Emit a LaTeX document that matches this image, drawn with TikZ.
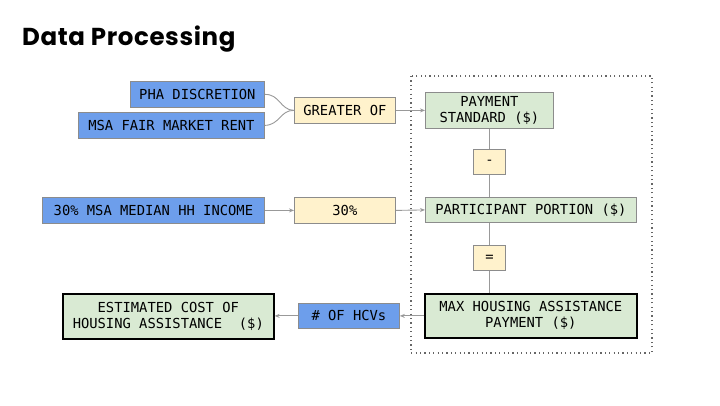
\documentclass[tikz,border=0pt]{standalone}
\usepackage{fontspec}
\setmonofont{DejaVu Sans Mono}
\newfontfamily\titlefont[LetterSpace=2.5]{Poppins}
\usetikzlibrary{arrows.meta}
\definecolor{bluebox}{HTML}{6D9EEB}
\definecolor{yellowbox}{HTML}{FFF2CC}
\definecolor{greenbox}{HTML}{D9EAD3}
\definecolor{edgegray}{HTML}{999999}
\definecolor{bordergray}{HTML}{8C8C8C}
\tikzset{
  x=1pt, y=-1pt,
  base/.style={font=\fontsize{13.8}{16}\selectfont\ttfamily, inner sep=0pt, align=center, text=black},
  bluenode/.style={base, fill=bluebox, draw=bordergray, line width=0.8pt},
  yellownode/.style={base, fill=yellowbox, draw=bordergray, line width=0.8pt},
  greennode/.style={base, fill=greenbox, draw=bordergray, line width=0.8pt},
  greenbold/.style={base, fill=greenbox, draw=black, line width=1.6pt},
  conn/.style={draw=edgegray, line width=0.9pt},
  arr/.style={conn, -{Stealth[length=5pt,width=4pt,open]}},
}
\begin{document}
\begin{tikzpicture}
\useasboundingbox (0,0) rectangle (720,405);
\fill[white] (0,0) rectangle (720,405);

\node[anchor=base west, inner sep=0pt, font=\titlefont\bfseries\fontsize{24.5}{28}\selectfont] (title) at (22,45) {Data Processing};

% dotted frame
\draw[dash pattern=on 1.2pt off 3.2pt, line width=1.2pt, black!60] (411,76) rectangle (652,353);

% left inputs
\node[bluenode, minimum width=134pt, minimum height=26pt, anchor=north west] (pha) at (130,81) {};
\node[base] at (pha.center) {PHA DISCRETION};
\node[bluenode, minimum width=186pt, minimum height=26pt, anchor=north west] (msa) at (78,112) {};
\node[base] at (msa.center) {MSA FAIR MARKET RENT};
\node[yellownode, minimum width=101pt, minimum height=26pt, anchor=north west] (greater) at (294,97) {};
\node[base] at (greater.center) {GREATER OF};

\node[bluenode, minimum width=222pt, minimum height=26pt, anchor=north west] (income) at (42,197) {};
\node[base] at (income.center) {30\% MSA MEDIAN HH INCOME};
\node[yellownode, minimum width=101pt, minimum height=26pt, anchor=north west] (thirty) at (294,197) {};
\node[base] at (thirty.center) {30\%};

% right column
\node[greennode, minimum width=128pt, minimum height=36pt, anchor=north west] (pay) at (425,92) {};
\node[base] at (pay.center) {PAYMENT\\STANDARD (\$)};
\node[yellownode, minimum width=32pt, minimum height=25pt, anchor=north west] (minus) at (473,149) {};
\node[base] at (minus.center) {-};
\node[greennode, minimum width=211pt, minimum height=25pt, anchor=north west] (part) at (425,197) {};
\node[base] at (part.center) {PARTICIPANT PORTION (\$)};
\node[yellownode, minimum width=32pt, minimum height=25pt, anchor=north west] (equal) at (473,245) {};
\node[base] at (equal.center) {=};
\node[greenbold, minimum width=212pt, minimum height=44pt, anchor=north west] (max) at (424,293) {};
\node[base] at (max.center) {MAX HOUSING ASSISTANCE\\PAYMENT (\$)};

% bottom left
\node[bluenode, minimum width=101pt, minimum height=25pt, anchor=north west] (hcv) at (298,303) {};
\node[base] at (hcv.center) {\# OF HCVs};
\node[greenbold, minimum width=211pt, minimum height=45pt, anchor=north west] (est) at (62,293) {};
\node[base] at (est.center) {ESTIMATED COST OF\\HOUSING ASSISTANCE~~(\$)};

% connectors
\draw[conn] (pha.east) .. controls (280,94) and (280,110) .. (greater.west);
\draw[conn] (msa.east) .. controls (280,125) and (280,110) .. (greater.west);
\draw[arr] (greater.east) -- (pay.west |- greater.east);
\draw[arr] (income.east) -- (thirty.west);
\draw[arr] (thirty.east) -- (part.west);
\draw[conn] (minus.north) -- (minus.north |- pay.south);
\draw[conn] (minus.south) -- (minus.south |- part.north);
\draw[conn] (equal.north) -- (equal.north |- part.south);
\draw[conn] (equal.south) -- (equal.south |- max.north);
\draw[arr] (max.west |- hcv.east) -- (hcv.east);
\draw[arr] (hcv.west) -- (est.east |- hcv.west);
\end{tikzpicture}
\end{document}
